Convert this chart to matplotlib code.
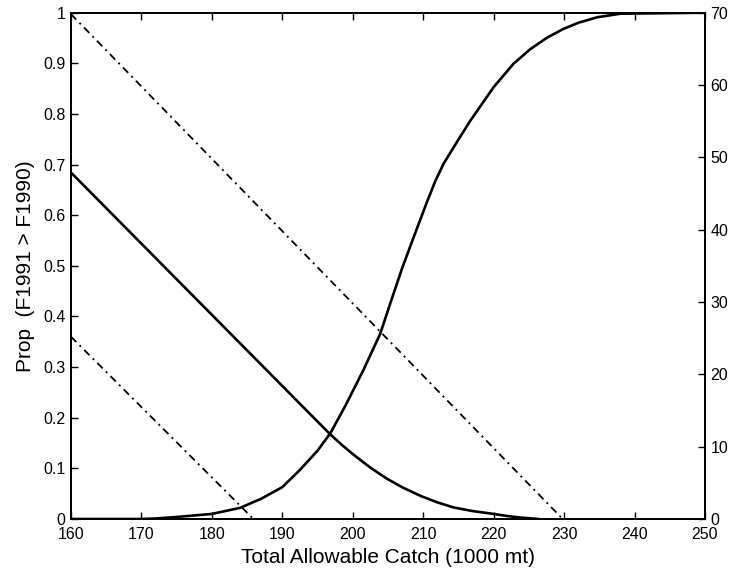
import matplotlib.pyplot as plt
import matplotlib.ticker as mticker

plt.rcParams['font.family'] = ['Liberation Sans', 'DejaVu Sans']

# -------------------------
# Data
# -------------------------
# probability curve (left axis)
tac_prob = [160, 170, 172, 175, 180, 184, 187, 190, 192.5, 195, 196.8, 199,
            201.5, 203.9, 205.3, 207, 208.6, 210.5, 211.7, 212.9, 214.8, 216.7,
            220, 222.8, 225.2, 227.5, 229.9, 232, 234.7, 238, 250]
prob = [0, 0, 0.001, 0.004, 0.01, 0.022, 0.04, 0.063, 0.097, 0.135, 0.169, 0.225,
        0.294, 0.366, 0.425, 0.495, 0.555, 0.625, 0.667, 0.702, 0.745, 0.787,
        0.853, 0.899, 0.928, 0.95, 0.968, 0.98, 0.991, 0.998, 1.0]

# central estimate (right axis)
tac_mid = [160, 196.7, 198.5, 200.1, 202.5, 204.8, 207, 209.6, 212, 214.3,
           217, 220, 222, 223.8, 226.4]
mid = [47.9, 11.8, 10.2, 8.9, 7.1, 5.6, 4.4, 3.2, 2.3, 1.6,
       1.1, 0.7, 0.4, 0.2, 0.0]

# upper / lower bounds (right axis)
tac_upper = [160, 229.8]
upper = [69.8, 0]
tac_lower = [160, 185.9]
lower = [25.2, 0]

# -------------------------
# Figure setup
# -------------------------
fig = plt.figure(figsize=(7.35, 5.76), dpi=100)
ax1 = fig.add_axes([71/735, 57/576, 634/735, 506.3/576])
ax2 = ax1.twinx()

dashdot = (0, (4.2, 2.5, 1.1, 2.5))

ax1.plot(tac_prob, prob, color='black', lw=1.9, solid_capstyle='round',
         solid_joinstyle='round')
ax2.plot(tac_mid, mid, color='black', lw=1.9, solid_capstyle='round',
         solid_joinstyle='round')
ax2.plot(tac_upper, upper, color='black', lw=1.3, linestyle=dashdot)
ax2.plot(tac_lower, lower, color='black', lw=1.3, linestyle=dashdot)

ax1.set_xlim(160, 250)
ax1.set_ylim(0, 1)
ax2.set_ylim(0, 70)

ax1.set_xticks(range(160, 251, 10))
ax1.set_yticks([i / 10 for i in range(11)])
ax2.set_yticks(range(0, 71, 10))
ax1.yaxis.set_major_formatter(mticker.FormatStrFormatter('%g'))

ax1.tick_params(axis='x', direction='in', top=True, bottom=True, length=5,
                width=1, labelsize=11.5, pad=6)
ax1.tick_params(axis='y', direction='in', left=True, right=False, length=5,
                width=1, labelsize=11.5, pad=4)
ax2.tick_params(axis='y', direction='in', right=True, length=5, width=1,
                labelsize=11.5, pad=4)

for ax in (ax1, ax2):
    for s in ax.spines.values():
        s.set_linewidth(1.3)

ax1.set_xlabel('Total Allowable Catch (1000 mt)', fontsize=15, labelpad=4)
ax1.set_ylabel('Prop  (F1991 > F1990)', fontsize=15, labelpad=6)

plt.savefig('out.png', dpi=100)
